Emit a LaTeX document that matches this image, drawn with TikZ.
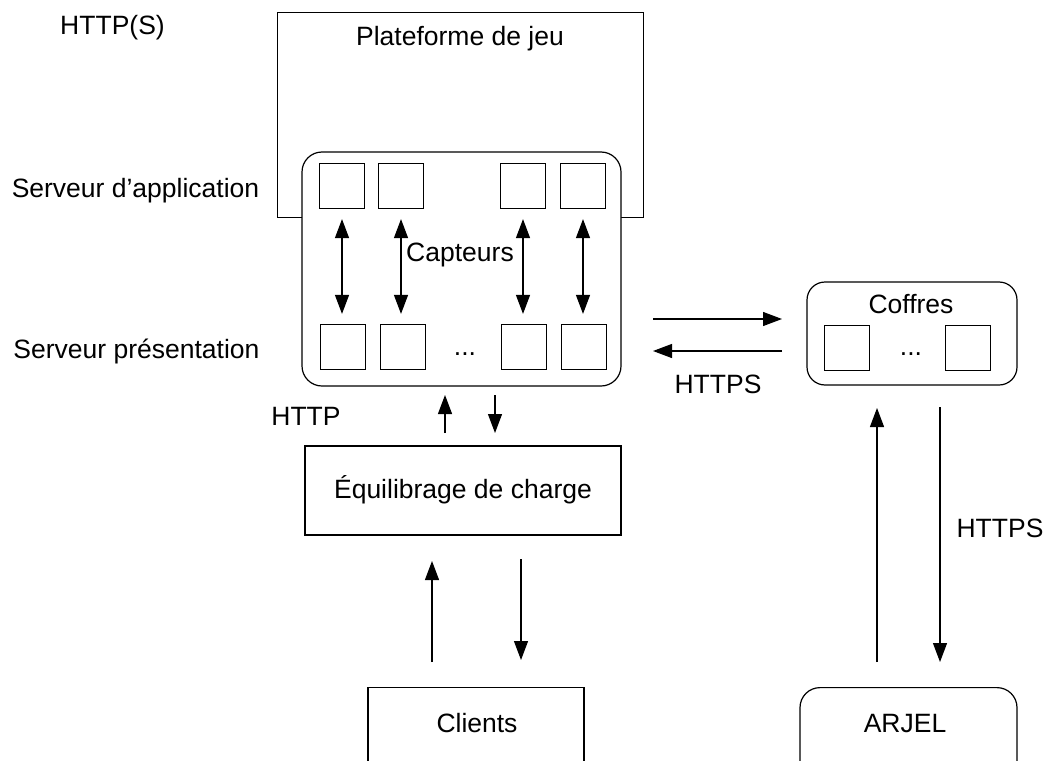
\documentclass[tikz,border=0pt]{standalone}
\usepackage{fontspec}
\setmainfont{Liberation Sans}
\usetikzlibrary{arrows.meta}
\begin{document}
\begin{tikzpicture}[x=1pt,y=-1pt,
  box/.style={draw,line width=1.2pt,inner sep=0pt},
  sq/.style={draw,line width=1.2pt,minimum width=45pt,minimum height=45pt,inner sep=0pt},
  lbl/.style={font=\fontsize{26.5}{30}\selectfont,inner sep=0pt,anchor=base},
  arr/.style={line width=1.2pt,-{Triangle[length=19pt,width=14pt]}},
  darr/.style={line width=1.2pt,{Triangle[length=19pt,width=14pt]}-{Triangle[length=19pt,width=14pt]}}]
\useasboundingbox (0,0) rectangle (1046,760);
\clip (0,0) rectangle (1046,760);

% Plateforme de jeu
\node[box, minimum width=366pt, minimum height=205pt, anchor=north west] (plat) at (277,12) {};
\node[lbl] (platl) at (460,46) {Plateforme de jeu};

% Serveur box
\node[box, fill=white, rounded corners=20pt, minimum width=319pt, minimum height=234pt] (srv) at (461.5,269) {};

\node[sq] (t1) at (342,186) {};
\node[sq] (t2) at (401,186) {};
\node[sq] (t3) at (523,186) {};
\node[sq] (t4) at (583,186) {};
\node[sq] (b1) at (343,347) {};
\node[sq] (b2) at (403,347) {};
\node[sq] (b3) at (524,347) {};
\node[sq] (b4) at (584,347) {};
\node[lbl] (dots1) at (465,355) {...};
\node[lbl] (capt) at (460,261) {Capteurs};

\foreach \t/\b in {t1/b1,t2/b2,t3/b3,t4/b4}{
  \draw[darr, shorten <=10pt, shorten >=10pt] (\t.south) -- (\t.south |- \b.north);
}

% left labels
\node[lbl] (https0) at (112.5,35) {HTTP(S)};
\node[lbl] (sapp) at (135.5,197) {Serveur d’application};
\node[lbl] (spres) at (136.5,358) {Serveur présentation};

% Coffres
\node[box, rounded corners=18pt, minimum width=210pt, minimum height=103pt] (coff) at (912,333.5) {};
\node[lbl] (coffl) at (911,313) {Coffres};
\node[sq] (c1) at (847,348) {};
\node[sq] (c2) at (968,348) {};
\node[lbl] (dots2) at (911,355) {...};

\coordinate (r1a) at (653,319);
\coordinate (r1b) at (782,319);
\coordinate (r2a) at (782,351);
\coordinate (r2b) at (653,351);
\draw[arr] (r1a) -- (r1b);
\draw[arr] (r2a) -- (r2b);
\node[lbl] (https1) at (718,393) {HTTPS};

% Equilibrage
\node[box, minimum width=316pt, minimum height=89pt] (eq) at (463,490.5) {};
\node[lbl] (eql) at (463,498) {Équilibrage de charge};
\node[lbl] (http) at (306,425) {HTTP};

\coordinate (h1a) at (445,433);
\coordinate (h1b) at (445,395);
\coordinate (h2a) at (495,395);
\coordinate (h2b) at (495,433);
\draw[arr] (h1a) -- (h1b);
\draw[arr] (h2a) -- (h2b);

% Clients
\node[box, minimum width=216pt, minimum height=100pt, anchor=north] (cli) at (476,687) {};
\node[lbl] (clil) at (477,732) {Clients};
\coordinate (k1a) at (432,662);
\coordinate (k1b) at (432,561);
\coordinate (k2a) at (521,559);
\coordinate (k2b) at (521,660);
\draw[arr] (k1a) -- (k1b);
\draw[arr] (k2a) -- (k2b);

% ARJEL
\node[box, rounded corners=20pt, minimum width=217pt, minimum height=100pt, anchor=north] (arj) at (908.5,687) {};
\node[lbl] (arjl) at (905,732) {ARJEL};
\coordinate (j1a) at (877,662);
\coordinate (j1b) at (877,408);
\coordinate (j2a) at (940,407);
\coordinate (j2b) at (940,662);
\draw[arr] (j1a) -- (j1b);
\draw[arr] (j2a) -- (j2b);
\node[lbl] (https2) at (1000,537) {HTTPS};
\end{tikzpicture}
\end{document}
